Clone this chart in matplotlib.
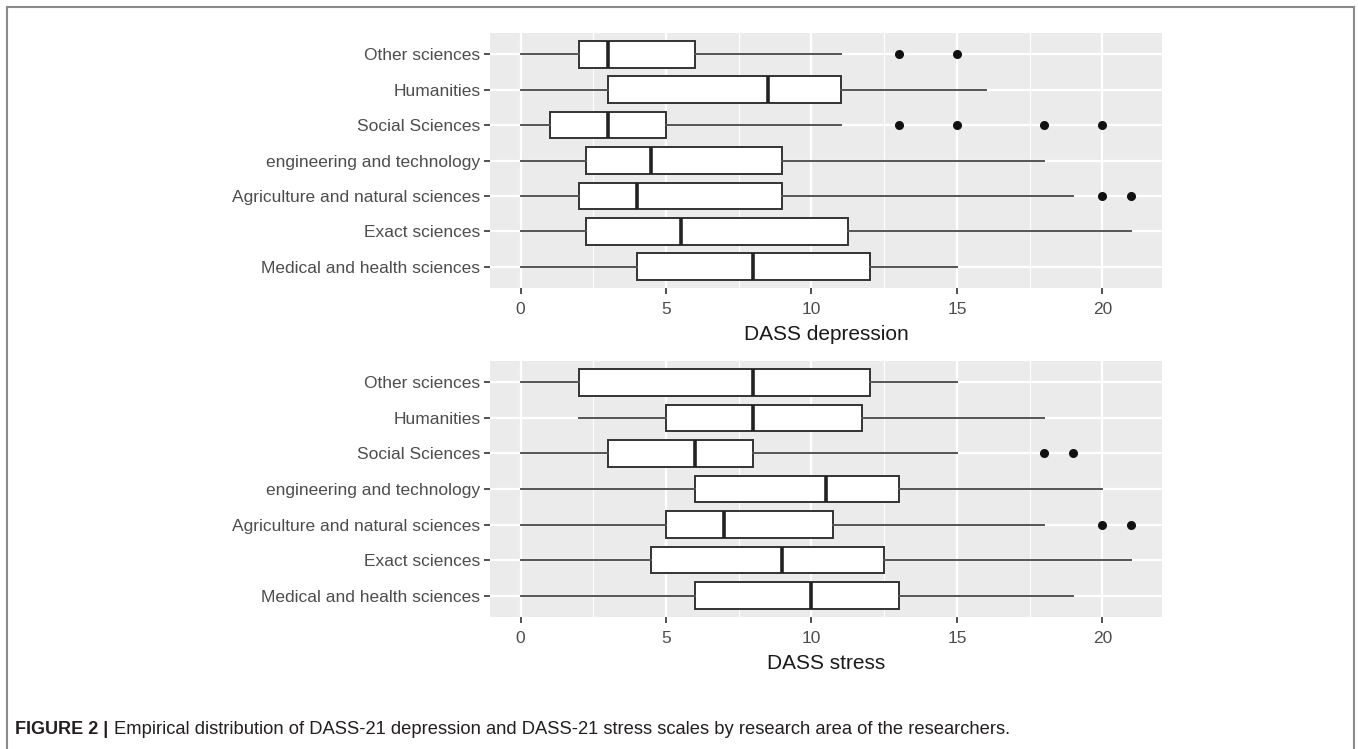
import numpy as np
import matplotlib.pyplot as plt
from matplotlib.lines import Line2D

# Research areas, listed top to bottom as they appear on the y axis
areas = ["Other sciences", "Humanities", "Social Sciences",
         "engineering and technology", "Agriculture and natural sciences",
         "Exact sciences", "Medical and health sciences"]

# DASS depression: five-number summaries (whisker low, Q1, median, Q3, whisker high)
dep_whislo = [0, 0, 0, 0, 0, 0, 0]
dep_q1 = [2, 3, 1, 2.25, 2, 2.25, 4]
dep_med = [3, 8.5, 3, 4.5, 4, 5.5, 8]
dep_q3 = [6, 11, 5, 9, 9, 11.25, 12]
dep_whishi = [11, 16, 11, 18, 19, 21, 15]
dep_out = [[13, 15], [], [13, 15, 18, 20], [], [20, 21], [], []]

# DASS stress
str_whislo = [0, 2, 0, 0, 0, 0, 0]
str_q1 = [2, 5, 3, 6, 5, 4.5, 6]
str_med = [8, 8, 6, 10.5, 7, 9, 10]
str_q3 = [12, 11.75, 8, 13, 10.75, 12.5, 13]
str_whishi = [15, 18, 15, 20, 18, 21, 19]
str_out = [[], [], [18, 19], [], [20, 21], [], []]

xticks = [0, 5, 10, 15, 20]

plt.rcParams['font.family'] = ['Liberation Sans', 'DejaVu Sans']

W, H = 1358, 749
fig = plt.figure(figsize=(W / 100, H / 100), dpi=100)


def px_axes(left, top, right, bottom):
    return fig.add_axes([left / W, 1 - bottom / H, (right - left) / W,
                         (bottom - top) / H])


def draw_panel(ax, lo, q1, med, q3, hi, out, xlabel):
    n = len(areas)
    pos = np.arange(n, 0, -1)
    stats = []
    for i in range(n):
        stats.append(dict(whislo=lo[i], q1=q1[i], med=med[i], q3=q3[i],
                          whishi=hi[i], fliers=out[i]))
    ax.set_facecolor('#EBEBEB')
    ax.bxp(stats, positions=pos, widths=0.75, vert=False,
           patch_artist=True, showcaps=False,
           boxprops=dict(facecolor='white', edgecolor='#333333', linewidth=1.4),
           medianprops=dict(color='#222222', linewidth=2.6),
           whiskerprops=dict(color='#555555', linewidth=1.4),
           flierprops=dict(marker='o', markerfacecolor='#111111',
                           markeredgecolor='#111111', markersize=5.5))
    ax.set_xlim(-1.05, 22.05)
    ax.set_ylim(0.4, n + 0.6)
    ax.set_xticks(xticks)
    ax.set_xticklabels([str(t) for t in xticks])
    ax.set_xticks([2.5, 7.5, 12.5, 17.5], minor=True)
    ax.set_yticks(pos)
    ax.set_yticklabels(areas)
    ax.grid(True, which='major', color='white', linewidth=1.6)
    ax.grid(True, which='minor', axis='x', color='white', linewidth=0.8)
    ax.set_axisbelow(True)
    for s in ax.spines.values():
        s.set_visible(False)
    ax.tick_params(axis='both', which='major', length=4, width=1.2,
                   color='#333333', labelcolor='#4D4D4D', labelsize=12.5,
                   pad=3)
    ax.tick_params(axis='x', which='major', pad=6)
    ax.tick_params(axis='x', which='minor', length=0)
    ax.set_xlabel(xlabel, fontsize=15, color='#1a1a1a', labelpad=6)


ax1 = px_axes(490, 33, 1162, 288)
draw_panel(ax1, dep_whislo, dep_q1, dep_med, dep_q3, dep_whishi, dep_out,
           "DASS depression")

ax2 = px_axes(490, 361, 1162, 617)
draw_panel(ax2, str_whislo, str_q1, str_med, str_q3, str_whishi, str_out,
           "DASS stress")

# Frame around the figure
frame_kw = dict(color='#8a8a8a', linewidth=1.5, transform=fig.transFigure)
fig.add_artist(Line2D([7 / W, 7 / W], [0, 1 - 7 / H], **frame_kw))
fig.add_artist(Line2D([7 / W, 1354 / W], [1 - 7 / H, 1 - 7 / H], **frame_kw))
fig.add_artist(Line2D([1354 / W, 1354 / W], [0, 1 - 7 / H], **frame_kw))

# Caption
cap_y = 1 - 730 / H
t = fig.text(15 / W, cap_y, "FIGURE 2 |", fontsize=13, fontweight='bold',
             color='#231f20', va='center', ha='left')
fig.canvas.draw()
bb = t.get_window_extent()
fig.text((bb.x1 + 6) / W, cap_y,
         "Empirical distribution of DASS-21 depression and DASS-21 stress "
         "scales by research area of the researchers.",
         fontsize=13.2, color='#231f20', va='center', ha='left')

fig.savefig('out.png', dpi=100)
